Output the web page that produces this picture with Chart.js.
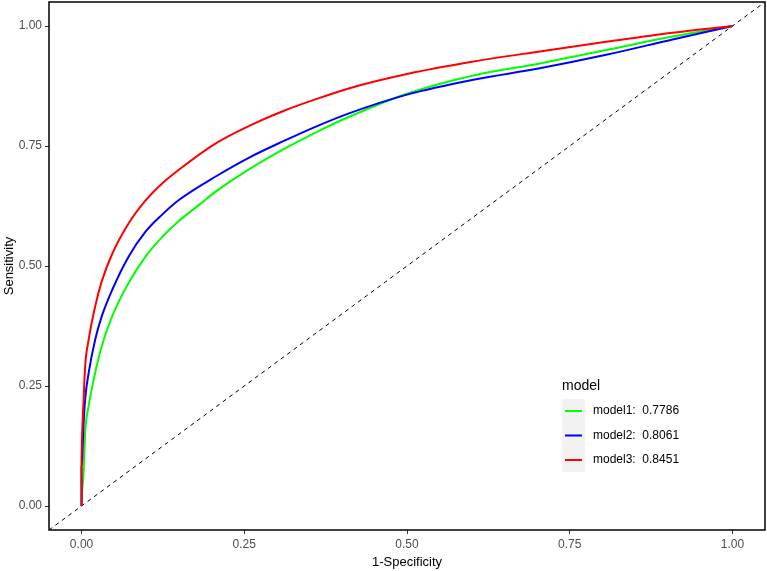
<!DOCTYPE html>
<html>
<head>
  <meta charset="UTF-8">
  <title>ROC curves</title>
  <script src="https://cdn.jsdelivr.net/npm/chart.js"></script>
  <style>
    body { margin: 0; background: white; }
    #wrap { width: 767px; height: 571px; }
  </style>
</head>
<body>
  <div id="wrap"><canvas id="chart"></canvas></div>

  <script>
    // ROC points (1-specificity, sensitivity)
    const fpr1 = [0, 0.001, 0.003, 0.0056, 0.011, 0.021, 0.031, 0.047, 0.072, 0.098, 0.123, 0.149, 0.183, 0.208, 0.259, 0.310, 0.361, 0.413, 0.5, 0.602, 0.704, 0.806, 0.908, 1];
    const tpr1 = [0, 0.030, 0.065, 0.154, 0.209, 0.278, 0.333, 0.395, 0.464, 0.519, 0.559, 0.593, 0.630, 0.657, 0.703, 0.743, 0.779, 0.812, 0.859, 0.897, 0.922, 0.950, 0.978, 1];
    const fpr2 = [0, 0, 0.0015, 0.003, 0.0056, 0.011, 0.021, 0.031, 0.047, 0.072, 0.098, 0.123, 0.149, 0.208, 0.259, 0.310, 0.361, 0.413, 0.5, 0.602, 0.704, 0.806, 0.908, 1];
    const tpr2 = [0, 0.080, 0.113, 0.168, 0.223, 0.278, 0.347, 0.395, 0.450, 0.519, 0.571, 0.606, 0.637, 0.688, 0.727, 0.760, 0.791, 0.819, 0.857, 0.888, 0.912, 0.940, 0.972, 1];
    const fpr3 = [0, 0, 0.0005, 0.003, 0.0056, 0.011, 0.021, 0.031, 0.047, 0.072, 0.098, 0.123, 0.149, 0.208, 0.259, 0.310, 0.361, 0.413, 0.5, 0.602, 0.704, 0.806, 0.908, 1];
    const tpr3 = [0, 0.100, 0.134, 0.217, 0.292, 0.347, 0.416, 0.468, 0.525, 0.588, 0.636, 0.671, 0.700, 0.757, 0.793, 0.823, 0.848, 0.871, 0.900, 0.926, 0.947, 0.967, 0.986, 1];
    const diagX = [-0.05, 1.05];
    const diagY = [-0.05, 1.05];

    const models = ['model1', 'model2', 'model3'];
    const aucs = ['0.7786', '0.8061', '0.8451'];
    const colors = ['#00FF00', '#0000FF', '#FF0000'];
    const tickVals = [0, 0.25, 0.5, 0.75, 1];

    function pts(xs, ys) {
      return xs.map((x, i) => ({ x: x, y: ys[i] }));
    }

    const FONT = "'Liberation Sans', Arial, sans-serif";

    // black box round the panel
    const frame = {
      id: 'frame',
      afterDatasetsDraw(chart) {
        const a = chart.chartArea, c = chart.ctx;
        c.save();
        c.strokeStyle = '#000';
        c.lineWidth = 1.5;
        c.strokeRect(a.left, a.top, a.right - a.left, a.bottom - a.top);
        c.restore();
      }
    };

    // ggplot-like legend inside the panel
    const legendBox = {
      id: 'legendBox',
      afterDraw(chart) {
        const c = chart.ctx;
        const x0 = 562, y0 = 399;
        c.save();
        c.fillStyle = '#000';
        c.font = '14px ' + FONT;
        c.textBaseline = 'middle';
        c.fillText('model', 562, 386);
        c.fillStyle = '#F2F2F2';
        c.fillRect(x0, y0, 23, 73);
        c.font = '12px ' + FONT;
        for (let i = 0; i < models.length; i++) {
          const y = y0 + 12 + i * 24.5;
          c.strokeStyle = colors[i];
          c.lineWidth = 2;
          c.beginPath();
          c.moveTo(x0 + 3, y);
          c.lineTo(x0 + 20, y);
          c.stroke();
          c.fillStyle = '#000';
          c.fillText(models[i] + ':  ' + aucs[i], 593, y);
        }
        c.restore();
      }
    };

    const ctx = document.getElementById('chart').getContext('2d');
    const chart = new Chart(ctx, {
      type: 'scatter',
      data: {
        datasets: [{
          label: 'model3',
          data: pts(fpr3, tpr3),
          borderColor: colors[2],
          order: 1
        }, {
          label: 'model2',
          data: pts(fpr2, tpr2),
          borderColor: colors[1],
          order: 2
        }, {
          label: 'model1',
          data: pts(fpr1, tpr1),
          borderColor: colors[0],
          order: 3
        }, {
          label: 'diag',
          data: pts(diagX, diagY),
          borderColor: '#000',
          borderWidth: 1,
          borderDash: [4, 4],
          order: 4
        }]
      },
      options: {
        responsive: true,
        maintainAspectRatio: false,
        animation: false,
        showLine: true,
        layout: { padding: { top: 2, right: 2, left: 0, bottom: 0 } },
        elements: {
          point: { radius: 0 },
          line: { borderWidth: 2, cubicInterpolationMode: 'monotone' }
        },
        plugins: { legend: { display: false }, tooltip: { enabled: false } },
        scales: {
          x: {
            type: 'linear', min: -0.05, max: 1.05,
            afterBuildTicks: s => { s.ticks = tickVals.map(v => ({ value: v })); },
            afterFit: s => { s.height = 41; s.paddingLeft = 0; s.paddingRight = 0; },
            grid: { drawOnChartArea: false, tickLength: 4, color: '#333' },
            border: { display: false },
            ticks: {
              color: '#4D4D4D', font: { family: FONT, size: 12 }, padding: 3,
              callback: v => v.toFixed(2)
            },
            title: { display: true, text: '1-Specificity', color: '#000', font: { family: FONT, size: 13 }, padding: { top: 0, bottom: 1 } }
          },
          y: {
            type: 'linear', min: -0.05, max: 1.05,
            afterBuildTicks: s => { s.ticks = tickVals.map(v => ({ value: v })); },
            afterFit: s => { s.width = 49; s.paddingTop = 0; s.paddingBottom = 0; },
            grid: { drawOnChartArea: false, tickLength: 4, color: '#333' },
            border: { display: false },
            ticks: {
              color: '#4D4D4D', font: { family: FONT, size: 12 }, padding: 3,
              callback: v => v.toFixed(2)
            },
            title: { display: true, text: 'Sensitivity', color: '#000', font: { family: FONT, size: 13 }, padding: { top: 2, bottom: 0 } }
          }
        }
      },
      plugins: [frame, legendBox]
    });
  </script>
</body>
</html>
